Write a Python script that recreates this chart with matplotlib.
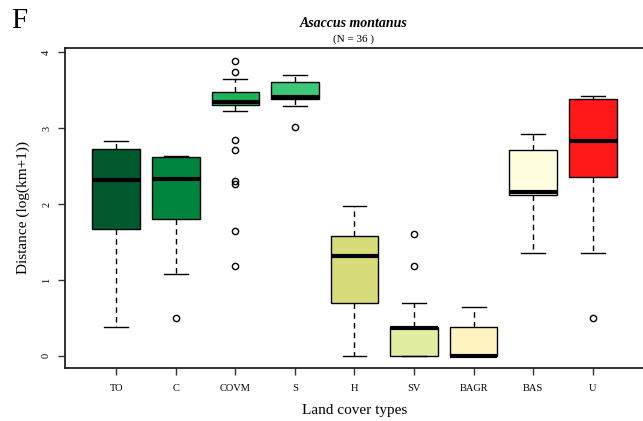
import matplotlib
matplotlib.use("Agg")
import matplotlib.pyplot as plt

plt.rcParams["font.family"] = ["Liberation Serif", "DejaVu Serif"]

# land cover types and box statistics (log(km+1))
cover_types = ["TO", "C", "COVM", "S", "H", "SV", "BAGR", "BAS", "U"]
medians = [2.32, 2.33, 3.34, 3.41, 1.32, 0.37, 0.0, 2.16, 2.83]
q1 = [1.67, 1.80, 3.30, 3.38, 0.70, 0.0, 0.0, 2.12, 2.36]
q3 = [2.73, 2.62, 3.48, 3.61, 1.58, 0.38, 0.38, 2.71, 3.38]
whisker_lo = [0.38, 1.08, 3.23, 3.29, 0.0, 0.0, 0.0, 1.36, 1.36]
whisker_hi = [2.83, 2.63, 3.65, 3.70, 1.98, 0.70, 0.65, 2.92, 3.43]
outliers = [
    [],
    [0.50],
    [3.89, 3.74, 2.85, 2.71, 2.30, 2.27, 1.65, 1.19],
    [3.01],
    [],
    [1.60, 1.19],
    [],
    [],
    [0.50],
]
box_colors = ["#005a2d", "#00853e", "#1bb45a", "#3cc878", "#d7db7a",
              "#e1eea1", "#fff4c0", "#ffffe0", "#ff1818"]

stats = []
for i, name in enumerate(cover_types):
    stats.append(dict(label=name, med=medians[i], q1=q1[i], q3=q3[i],
                      whislo=whisker_lo[i], whishi=whisker_hi[i],
                      fliers=outliers[i]))

fig = plt.figure(figsize=(6.43, 4.21), dpi=100)
ax = fig.add_axes([0.1011, 0.1266, 0.9004, 0.7594])

bp = ax.bxp(stats, positions=range(1, 10), widths=0.8, patch_artist=True,
            capwidths=0.4,
            boxprops=dict(edgecolor="black", linewidth=1.0),
            medianprops=dict(color="black", linewidth=3.0, solid_capstyle="butt"),
            whiskerprops=dict(color="black", linewidth=1.0, linestyle=(0, (4, 3))),
            capprops=dict(color="black", linewidth=1.0),
            flierprops=dict(marker="o", markersize=4.5, markerfacecolor="none",
                            markeredgecolor="black", markeredgewidth=1.0))
for patch, col in zip(bp["boxes"], box_colors):
    patch.set_facecolor(col)

ax.set_xlim(0.14, 9.86)
ax.set_ylim(-0.156, 4.056)
ax.set_yticks([0, 1, 2, 3, 4])
ax.set_yticklabels(["0", "1", "2", "3", "4"], rotation=90, va="center")
ax.tick_params(axis="both", direction="out", length=5, width=1.0,
               color="#333333", labelsize=7.5)
ax.tick_params(axis="x", pad=7)
ax.tick_params(axis="y", pad=5)

for side in ["left", "bottom", "top"]:
    ax.spines[side].set_color("#222222")
    ax.spines[side].set_linewidth(1.3)
ax.spines["right"].set_visible(False)

ax.set_xlabel("Land cover types", fontsize=11, labelpad=8)
ax.set_ylabel("Distance (log(km+1))", fontsize=11, labelpad=9)

fig.text(0.5505, 0.945, "Asaccus montanus", ha="center", va="center",
         fontsize=10, fontweight="bold", fontstyle="italic")
fig.text(0.5505, 0.908, "(N = 36 )", ha="center", va="center", fontsize=8)
fig.text(0.018, 0.950, "F", ha="left", va="center", fontsize=21)

fig.savefig("out.png", dpi=100)
